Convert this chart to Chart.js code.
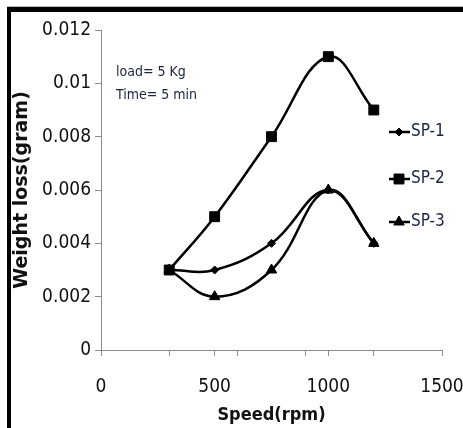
<!DOCTYPE html>
<html>
<head>
<meta charset="utf-8">
<script src="https://cdn.jsdelivr.net/npm/chart.js@4/dist/chart.umd.min.js"></script>
<style>
  html, body { margin: 0; padding: 0; background: #fff; }
  #wrap { position: relative; width: 463px; height: 428px; }
</style>
</head>
<body>
<div id="wrap"><canvas id="wear" width="463" height="428"></canvas></div>
<script>
// speed (rpm) vs weight loss (g), three specimens
const speeds = [300, 500, 750, 1000, 1200];
const sp1 = [0.003, 0.003, 0.004, 0.006, 0.004];
const sp2 = [0.003, 0.005, 0.008, 0.011, 0.009];
const sp3 = [0.003, 0.002, 0.003, 0.006, 0.004];
const seriesNames = ['SP-1', 'SP-2', 'SP-3'];
const xTickMarks = [0, 300, 500, 600, 900, 1000, 1200, 1500];
const xTickLabels = [0, 500, 1000, 1500];
const noteLines = ['load= 5 Kg', 'Time= 5 min'];

const NARROW = '"DejaVu Sans Condensed", "Liberation Sans Narrow", "Liberation Sans", sans-serif';
const TEXT = '#1c2440';

const pts = ys => speeds.map((x, i) => ({ x, y: ys[i] }));

const styles = [
  { pointStyle: 'rectRot', radius: 4 },
  { pointStyle: 'rect', radius: 7 },
  { pointStyle: 'triangle', radius: 6 }
];

const datasets = [sp1, sp2, sp3].map((ys, i) => ({
  label: seriesNames[i],
  data: pts(ys),
  showLine: true,
  borderColor: '#000',
  backgroundColor: '#000',
  borderWidth: 2.5,
  tension: 0.4,
  pointStyle: styles[i].pointStyle,
  pointRadius: styles[i].radius,
  pointBorderWidth: 1
}));

// black frame, side legend and test-condition note
const decor = {
  id: 'decor',
  afterDraw(chart) {
    const ctx = chart.ctx;
    ctx.save();
    ctx.fillStyle = '#bbb';
    ctx.fillRect(7, 6, 456, 1);
    ctx.fillStyle = '#000';
    ctx.fillRect(7, 7, 456, 5);
    ctx.fillRect(7, 7, 4, 421);

    ctx.fillStyle = TEXT;
    ctx.font = '14px ' + NARROW;
    ctx.textBaseline = 'middle';
    noteLines.forEach((t, i) => ctx.fillText(t, 116, 72 + i * 23));

    const rows = [132, 179, 222];
    chart.data.datasets.forEach((ds, i) => {
      const y = rows[i];
      ctx.strokeStyle = '#000';
      ctx.lineWidth = 2.5;
      ctx.beginPath();
      ctx.moveTo(389, y);
      ctx.lineTo(410, y);
      ctx.stroke();
      ctx.fillStyle = '#000';
      ctx.lineWidth = 1;
      Chart.helpers.drawPoint(ctx, { pointStyle: ds.pointStyle, radius: ds.pointRadius, rotation: 0, borderWidth: 1 }, 399, y);
      ctx.fillStyle = TEXT;
      ctx.font = '17px ' + NARROW;
      ctx.textBaseline = 'middle';
      ctx.fillText(ds.label, 411, y);
    });
    ctx.restore();
  }
};

new Chart(document.getElementById('wear'), {
  type: 'scatter',
  data: { datasets },
  options: {
    responsive: false,
    animation: false,
    layout: { padding: { top: 30, right: 21, left: 0, bottom: 0 } },
    plugins: { legend: { display: false }, tooltip: { enabled: false } },
    scales: {
      x: {
        type: 'linear',
        min: 0,
        max: 1500,
        afterFit: s => { s.height = 78; s.paddingLeft = 0; s.paddingRight = 0; },
        afterBuildTicks: s => { s.ticks = xTickMarks.map(v => ({ value: v })); },
        ticks: {
          autoSkip: false,
          maxRotation: 0,
          padding: 20,
          color: '#111',
          font: { family: NARROW, size: 19 },
          callback: v => xTickLabels.includes(v) ? String(v) : ''
        },
        grid: { drawOnChartArea: false, tickLength: 6, color: '#8c8c8c' },
        border: { color: '#8c8c8c', width: 1 },
        title: {
          display: true,
          text: 'Speed(rpm)',
          color: '#111',
          font: { family: NARROW, size: 18, weight: 'bold' },
          padding: { top: 0, bottom: 2 }
        }
      },
      y: {
        min: 0,
        max: 0.012,
        afterFit: s => { s.width = 101; s.paddingTop = 0; s.paddingBottom = 0; },
        ticks: {
          stepSize: 0.002,
          padding: 4,
          color: '#111',
          font: { family: NARROW, size: 19 },
          callback: v => String(Number(v.toFixed(3)))
        },
        grid: { drawOnChartArea: false, tickLength: 6, color: '#8c8c8c' },
        border: { color: '#8c8c8c', width: 1 },
        title: {
          display: true,
          text: 'Weight loss(gram)',
          color: '#111',
          font: { family: '"DejaVu Sans", Verdana, sans-serif', size: 19, weight: 'bold' },
          padding: { top: 11, bottom: 0 }
        }
      }
    }
  },
  plugins: [decor]
});
</script>
</body>
</html>
